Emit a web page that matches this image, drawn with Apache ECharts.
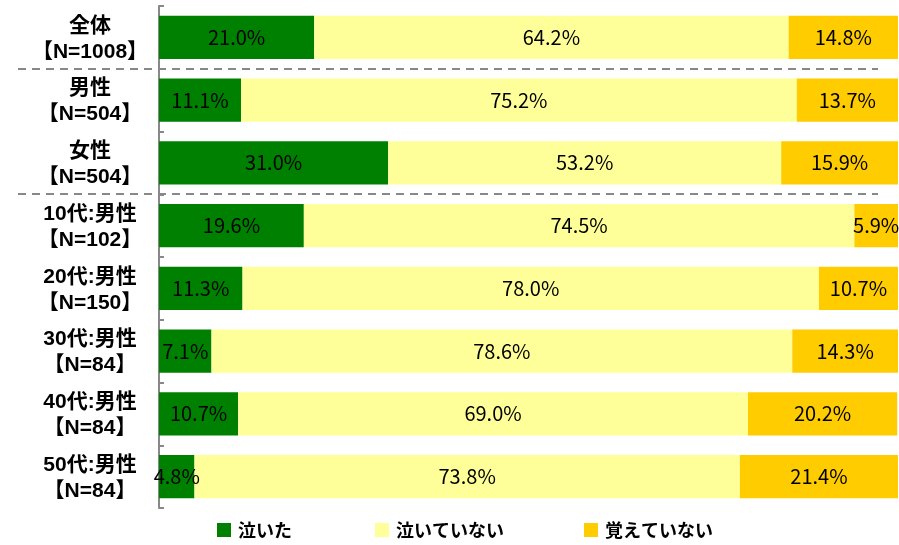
<!DOCTYPE html>
<html>
<head>
<meta charset="utf-8">
<script src="https://cdn.jsdelivr.net/npm/echarts@6/dist/echarts.min.js"></script>
<style>
  html, body { margin: 0; padding: 0; background: #fff; }
  #chart { width: 899px; height: 545px; }
</style>
</head>
<body>
<div id="chart"></div>
<script>
const categories = [
  '全体\n【N=1008】', '男性\n【N=504】', '女性\n【N=504】',
  '10代:男性\n【N=102】', '20代:男性\n【N=150】', '30代:男性\n【N=84】',
  '40代:男性\n【N=84】', '50代:男性\n【N=84】'
];
const seriesNames = ['泣いた', '泣いていない', '覚えていない'];
const cried = [21.0, 11.1, 31.0, 19.6, 11.3, 7.1, 10.7, 4.8];
const notCried = [64.2, 75.2, 53.2, 74.5, 78.0, 78.6, 69.0, 73.8];
const dontRemember = [14.8, 13.7, 15.9, 5.9, 10.7, 14.3, 20.2, 21.4];
const colors = ['#008000', '#FFFF99', '#FFCC00'];
// group separators after these category indexes
const separatorsAfter = [0, 2];

const font = '"Noto Sans CJK JP", "Noto Sans", sans-serif';
const labelFont = 'Liberation Sans, Noto Sans CJK JP, sans-serif';
const chart = echarts.init(document.getElementById('chart'));

const mk = (name, data, color) => ({
  name: name,
  type: 'bar',
  stack: 'total',
  data: data,
  barWidth: '69%',
  itemStyle: { color: color },
  label: {
    show: true,
    position: 'inside',
    formatter: p => p.value.toFixed(1) + '%',
    color: '#000',
    fontSize: 20,
    fontFamily: font
  },
  emphasis: { disabled: true }
});

const legendLefts = [212, 370, 579];
const lblStyle = { color: '#000', fontSize: 21, fontWeight: 'bold', fontFamily: labelFont, lineHeight: 29 };

chart.setOption({
  animation: false,
  color: colors,
  grid: { left: 159, right: 1, top: 6, bottom: 37, containLabel: false },
  legend: seriesNames.map((n, i) => ({
    data: [n],
    left: legendLefts[i],
    bottom: 1,
    itemWidth: 14,
    itemHeight: 14,
    icon: 'rect',
    itemGap: 7,
    selectedMode: false,
    textStyle: { fontSize: 18, fontWeight: 'bold', fontFamily: font, color: '#000', padding: [0, 0, 0, 2] }
  })),
  xAxis: { type: 'value', min: 0, max: 100, show: false },
  yAxis: {
    type: 'category',
    data: categories,
    inverse: true,
    axisLine: { show: true, lineStyle: { color: '#888', width: 2 } },
    axisTick: { show: true, inside: true, length: 5, lineStyle: { color: '#888', width: 2 } },
    axisLabel: {
      interval: 0,
      align: 'center',
      margin: 69,
      formatter: v => {
        const parts = v.split('\n');
        return '{a|' + parts[0] + '}\n{b|' + parts[1] + '}';
      },
      rich: {
        a: Object.assign({ padding: [6, 0, 0, 0] }, lblStyle),
        b: Object.assign({}, lblStyle)
      }
    }
  },
  series: [
    mk(seriesNames[0], cried, colors[0]),
    mk(seriesNames[1], notCried, colors[1]),
    mk(seriesNames[2], dontRemember, colors[2])
  ]
});

// dashed separators between category groups
const lines = separatorsAfter.map(i => {
  const y = Math.round((chart.convertToPixel({ yAxisIndex: 0 }, i) +
                        chart.convertToPixel({ yAxisIndex: 0 }, i + 1)) / 2);
  return {
    type: 'line',
    shape: { x1: 18, y1: y, x2: 878, y2: y },
    style: { stroke: '#888', lineWidth: 2, lineDash: [8, 6] },
    silent: true
  };
});
chart.setOption({ graphic: lines });
</script>
</body>
</html>
